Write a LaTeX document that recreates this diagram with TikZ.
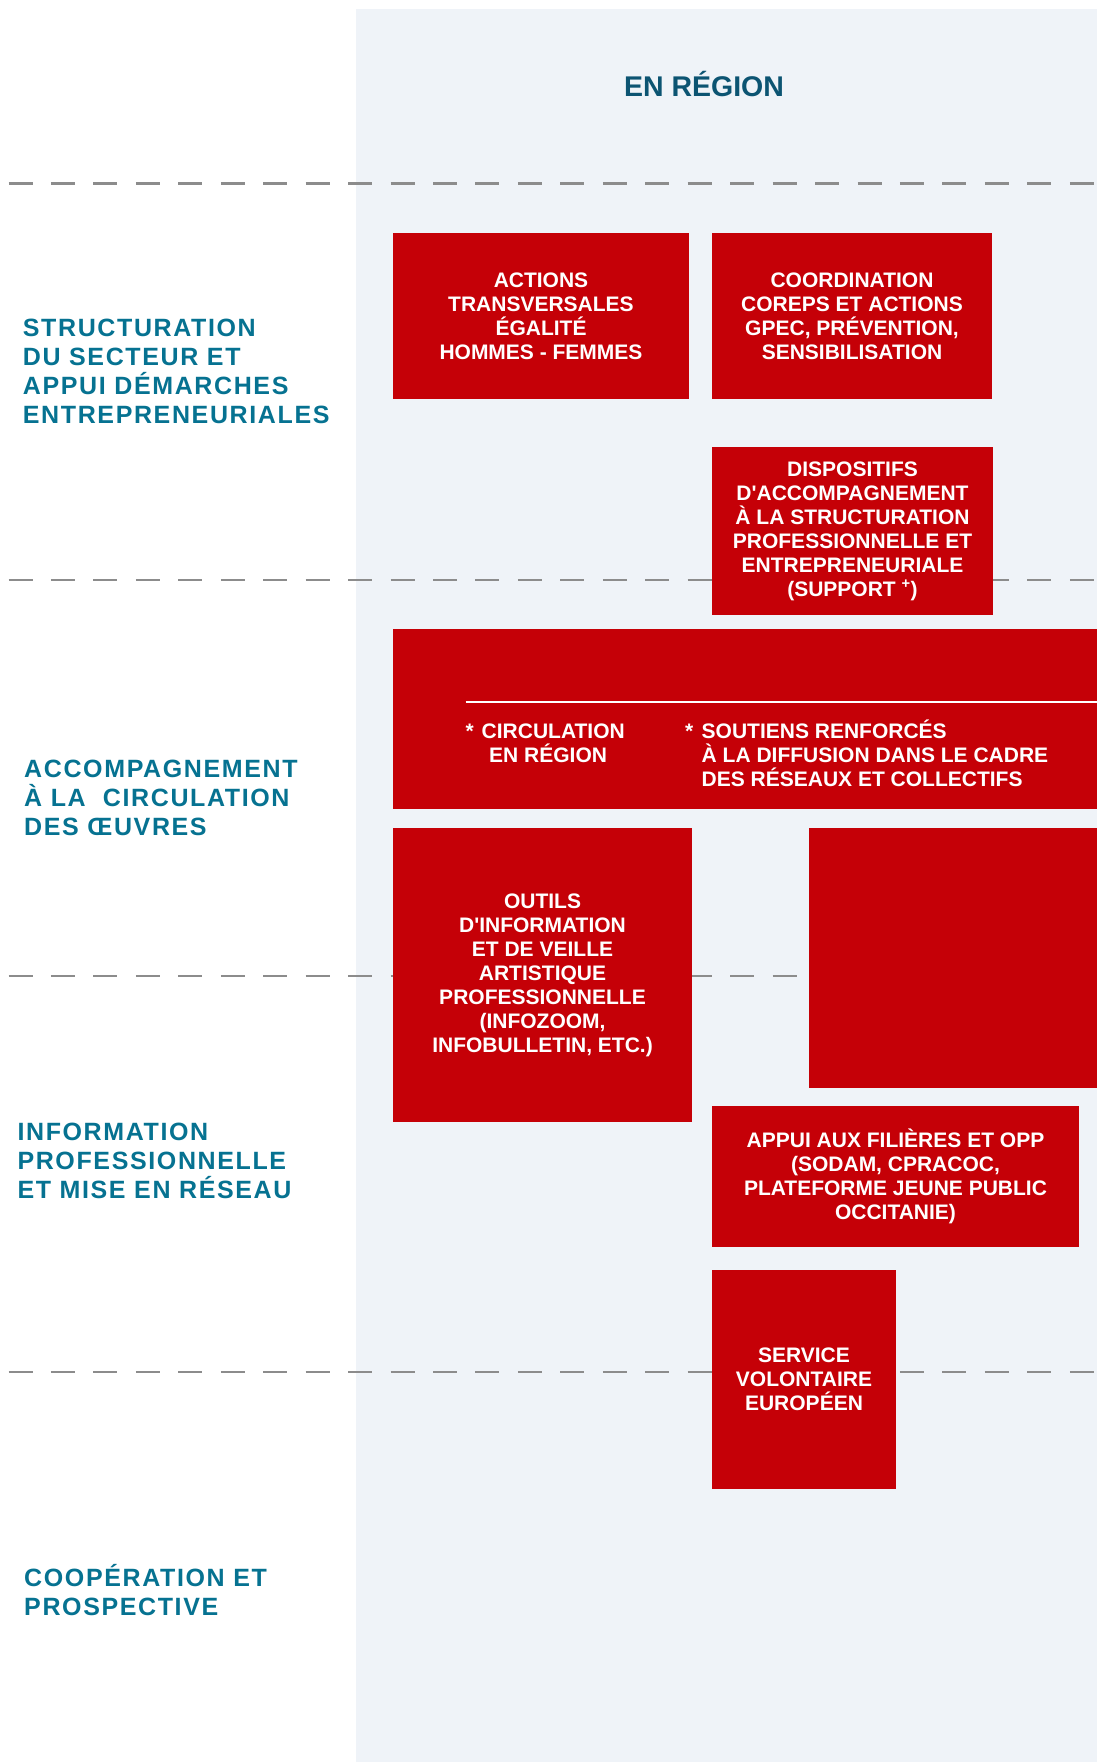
\documentclass[tikz,border=0pt]{standalone}
\usepackage{fontspec}
\setmainfont{Liberation Sans}
\newfontfamily\boxfont{Liberation Sans}
\newfontfamily\labfont[LetterSpace=6.5]{Liberation Sans}
\definecolor{boxred}{RGB}{197,0,7}
\definecolor{labteal}{RGB}{6,114,145}
\definecolor{headblue}{RGB}{12,84,114}
\definecolor{panelbg}{RGB}{239,243,248}
\definecolor{sepgray}{RGB}{140,140,140}
\newcommand\stackleft[1]{\vtop{\let\\\cr\halign{##\hfil\cr#1\crcr}}}
\tikzset{
  redbox/.style={fill=boxred, draw=none, inner sep=0pt, outer sep=0pt, text=white,
    font=\boxfont\bfseries\fontsize{21}{24}\selectfont, align=center},
  circtext/.style={text=white, font=\boxfont\bfseries\fontsize{21}{24}\selectfont, anchor=base west, inner sep=0pt},
  seclabel/.style={text=labteal, font=\labfont\bfseries\fontsize{25}{29}\selectfont, anchor=base west, inner sep=0pt},
  sepline/.style={draw=sepgray, line width=2.5pt, dash pattern=on 24pt off 18.45pt},
}
\begin{document}
\begin{tikzpicture}[x=1pt,y=-1pt]
\useasboundingbox (0,0) rectangle (1097,1762);
% panel
\fill[panelbg] (356,9) rectangle (1097,1762);
\node[text=headblue, font=\bfseries\fontsize{28.5}{32}\selectfont, anchor=base, inner sep=0pt] (head) at (704,96.7) {EN RÉGION};
% separators
\coordinate (l1a) at (8.5,183.5); \coordinate (l1b) at (1097,183.5);
\coordinate (l2a) at (8.5,580);   \coordinate (l2b) at (1097,580);
\coordinate (l3a) at (8.5,976);   \coordinate (l3b) at (1097,976);
\coordinate (l4a) at (8.5,1372);  \coordinate (l4b) at (1097,1372);
\draw[sepline] (l1a) -- (l1b);
\draw[sepline] (l2a) -- (l2b);
\draw[sepline] (l3a) -- (l3b);
\draw[sepline] (l4a) -- (l4b);
% section labels
\node[seclabel] (s1) at (22.7,336) {\stackleft{STRUCTURATION\\DU SECTEUR ET\\APPUI DÉMARCHES\\ENTREPRENEURIALES}};
\node[seclabel] (s2) at (24,777.5) {\stackleft{ACCOMPAGNEMENT\\À LA\ \ CIRCULATION\\DES ŒUVRES}};
\node[seclabel] (s3) at (17.3,1140) {\stackleft{INFORMATION\\PROFESSIONNELLE\\ET MISE EN RÉSEAU}};
\node[seclabel] (s4) at (24,1586.7) {\stackleft{COOPÉRATION ET\\PROSPECTIVE}};
% red boxes
\node[redbox, minimum width=296pt, minimum height=166pt] (b1) at (541,316)
  {ACTIONS\\TRANSVERSALES\\ÉGALITÉ\\HOMMES - FEMMES};
\node[redbox, minimum width=280pt, minimum height=166pt] (b2) at (852,316)
  {COORDINATION\\COREPS ET ACTIONS\\GPEC, PRÉVENTION,\\SENSIBILISATION};
\node[redbox, minimum width=281pt, minimum height=168pt] (b3) at (852.5,531)
  {DISPOSITIFS\\D'ACCOMPAGNEMENT\\À LA STRUCTURATION\\PROFESSIONNELLE ET\\ENTREPRENEURIALE\\(SUPPORT \textsuperscript{+})};
\node[redbox, minimum width=704pt, minimum height=180pt] (circ) at (745,719) {};
\coordinate (rl) at (465.5,702);
\draw[white, line width=1.5pt] (rl) -- (rl -| circ.east);
\node[circtext] (c1) at (465.5,738) {\stackleft{\makebox[16pt][l]{*}CIRCULATION\\\kern23.5pt EN RÉGION}};
\node[circtext] (c2) at (685,738) {\stackleft{\makebox[16.5pt][l]{*}SOUTIENS RENFORCÉS\\\kern16.5pt À LA DIFFUSION DANS LE CADRE\\\kern16.5pt DES RÉSEAUX ET COLLECTIFS}};
\node[redbox, minimum width=299pt, minimum height=294pt] (b5) at (542.5,975)
  {OUTILS\\D'INFORMATION\\ET DE VEILLE\\ARTISTIQUE\\PROFESSIONNELLE\\(INFOZOOM,\\INFOBULLETIN, ETC.)};
\node[redbox, minimum width=288pt, minimum height=260pt] (b6) at (953,958) {};
\node[redbox, minimum width=367pt, minimum height=141pt] (b7) at (895.5,1176.5)
  {APPUI AUX FILIÈRES ET OPP\\(SODAM, CPRACOC,\\PLATEFORME JEUNE PUBLIC\\OCCITANIE)};
\node[redbox, minimum width=184pt, minimum height=219pt] (b8) at (804,1379.5)
  {SERVICE\\VOLONTAIRE\\EUROPÉEN};
\end{tikzpicture}
\end{document}
